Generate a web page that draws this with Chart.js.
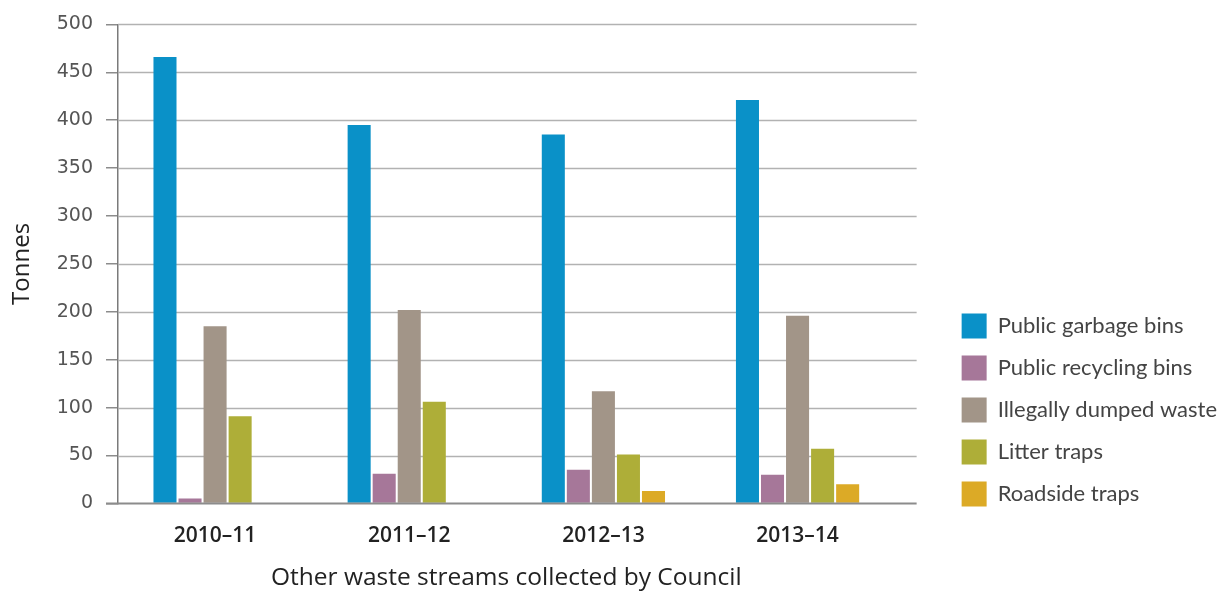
<!DOCTYPE html>
<html>
<head>
<meta charset="utf-8">
<title>Other waste streams collected by Council</title>
<script src="https://cdn.jsdelivr.net/npm/chart.js@4.4.0/dist/chart.umd.min.js"></script>
<style>
  html, body { margin: 0; padding: 0; background: #fff; }
  #chart-container { width: 1227px; height: 591px; }
</style>
</head>
<body>
<div id="chart-container"><canvas id="waste-chart" width="1227" height="591"></canvas></div>
<script>
// tonnes collected per financial year
const years = ['2010–11', '2011–12', '2012–13', '2013–14'];
const garbageBins = [466, 395, 385, 421];
const recyclingBins = [5, 31, 35, 30];
const dumpedWaste = [185, 202, 117, 196];
const litterTraps = [91, 106, 51, 57];
const roadsideTraps = [0, 0, 13, 20];

const seriesNames = ['Public garbage bins', 'Public recycling bins', 'Illegally dumped waste', 'Litter traps', 'Roadside traps'];
const seriesValues = [garbageBins, recyclingBins, dumpedWaste, litterTraps, roadsideTraps];
const colorPalette = ['#0a91c8', '#a67799', '#a29588', '#aeae38', '#dcaa26'];

const yMax = 500;
const yStep = 50;

// horizontal grid lines run a bit past the last group of bars
const longGridLines = {
    id: 'longGridLines',
    beforeDatasetsDraw(chart) {
        const { ctx, chartArea, scales } = chart;
        const y = scales.y;
        ctx.save();
        y.ticks.forEach(function (t) {
            if (t.value === 0) return;
            const py = Math.round(y.getPixelForValue(t.value)) + 0.5;
            ctx.strokeStyle = '#b2b2b2';
            ctx.lineWidth = 1.5;
            ctx.beginPath();
            ctx.moveTo(chartArea.left, py);
            ctx.lineTo(chartArea.right + 22, py);
            ctx.stroke();
        });
        ctx.restore();
    },
    afterDatasetsDraw(chart) {
        const { ctx, chartArea, scales } = chart;
        const py = Math.round(scales.y.getPixelForValue(0)) + 0.5;
        ctx.save();
        ctx.strokeStyle = '#8c8c8c';
        ctx.lineWidth = 2;
        ctx.beginPath();
        ctx.moveTo(chartArea.left - 12, py);
        ctx.lineTo(chartArea.right + 22, py);
        ctx.stroke();
        ctx.restore();
    }
};

let chartData = {
    labels: years,
    datasets: seriesNames.map(function (name, i) {
        return {
            label: name,
            data: seriesValues[i],
            backgroundColor: colorPalette[i],
            borderWidth: 0,
            categoryPercentage: 0.645,
            barPercentage: 0.92
        };
    })
};

let options = {
    responsive: false,
    animation: false,
    layout: { padding: { left: 8, top: 19, right: 0, bottom: 0 } },
    plugins: {
        tooltip: { enabled: false },
        legend: {
            display: true,
            position: 'right',
            align: 'start',
            maxWidth: 320,
            // empty title only pushes the key down beside the lower bars
            title: {
                display: true,
                text: '',
                padding: { top: 263, bottom: 0 },
                font: { size: 12 }
            },
            labels: {
                boxWidth: 25,
                boxHeight: 25,
                padding: 17,
                color: '#444',
                font: { family: 'Lato', size: 22 }
            }
        }
    },
    scales: {
        x: {
            grid: { display: false, drawTicks: false },
            border: { display: false },
            ticks: {
                color: '#222',
                padding: 20,
                maxRotation: 0,
                font: { family: 'Open Sans', size: 21, weight: '600' }
            },
            title: {
                display: true,
                text: 'Other waste streams collected by Council',
                color: '#222',
                padding: { top: -5, bottom: -2 },
                font: { family: 'Open Sans', size: 24.5 }
            }
        },
        y: {
            min: 0,
            max: yMax,
            afterFit: function (s) { s.width = 110; },
            grid: {
                drawOnChartArea: false,
                tickLength: 12,
                color: '#8c8c8c',
                lineWidth: 1.5
            },
            border: { color: '#7a7a7a', width: 1.5 },
            ticks: {
                stepSize: yStep,
                padding: 13,
                color: '#555',
                font: { family: 'DejaVu Sans', size: 19 }
            },
            title: {
                display: true,
                text: 'Tonnes',
                color: '#222',
                padding: { top: 0, bottom: 0 },
                font: { family: 'Open Sans', size: 24 }
            }
        },
        gap: {
            position: 'right',
            afterFit: function (s) { s.width = 50; },
            grid: { display: false },
            border: { display: false },
            ticks: { display: false }
        }
    }
};

var context = document.getElementById('waste-chart');
var chart = new Chart(context, {
    type: 'bar',
    data: chartData,
    options: options,
    plugins: [longGridLines]
});
</script>
</body>
</html>
